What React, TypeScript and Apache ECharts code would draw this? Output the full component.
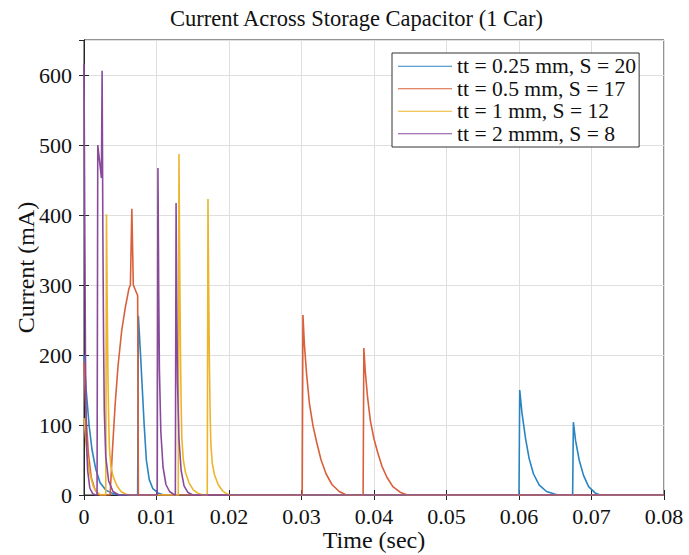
import React, { useEffect, useRef } from "react";
import * as echarts from "echarts";

const TITLE = "Current Across Storage Capacitor (1 Car)";
const X_NAME = "Time (sec)";
const Y_NAME = "Current (mA)";
const SERIES_NAMES = [
  "tt = 0.25 mm, S = 20",
  "tt = 0.5 mm, S = 17",
  "tt = 1 mm, S = 12",
  "tt = 2 mmm, S = 8",
];
const SERIES_COLORS = ["#2a84c2", "#d9603a", "#ecb52c", "#8a4a9c"];

// [time (s), current (mA)]
const BLUE_025MM: [number, number][] = [
  [0, 200], [0.0003, 150], [0.0007, 100], [0.0011, 65], [0.0016, 38], [0.0022, 18], [0.003, 7], [0.004, 2], [0.005, 0],
  [0.0074, 0], [0.0075, 256], [0.0078, 200], [0.008, 160], [0.0083, 100], [0.0086, 50], [0.009, 22], [0.0095, 9], [0.0102, 3], [0.011, 0],
  [0.06, 0], [0.0601, 150], [0.0604, 118], [0.0609, 81], [0.0614, 52], [0.062, 30], [0.0628, 14], [0.0638, 5], [0.065, 1], [0.0655, 0],
  [0.0674, 0], [0.0675, 104], [0.0678, 78], [0.0683, 50], [0.0689, 28], [0.0696, 12], [0.0705, 3], [0.0712, 0],
  [0.08, 0],
];

const ORANGE_05MM: [number, number][] = [
  [0, 190], [0.0003, 110], [0.0006, 60], [0.001, 25], [0.0015, 8], [0.002, 0],
  [0.0036, 0], [0.0039, 60], [0.0043, 130], [0.0047, 185], [0.0052, 235], [0.0057, 268], [0.0062, 295], [0.0064, 300],
  [0.0066, 409], [0.0068, 300], [0.0074, 285], [0.0075, 0],
  [0.0301, 0], [0.0302, 257], [0.0304, 215], [0.0307, 173], [0.0311, 130], [0.0316, 98], [0.0321, 75], [0.0327, 50], [0.0334, 30], [0.0342, 15], [0.0352, 5], [0.0362, 0],
  [0.0385, 0], [0.0386, 210], [0.0388, 176], [0.0391, 141], [0.0395, 106], [0.04, 80], [0.0405, 61], [0.0411, 41], [0.0418, 25], [0.0426, 12], [0.0436, 4], [0.0446, 0],
  [0.08, 0],
];

const YELLOW_1MM: [number, number][] = [
  [0, 110], [0.0004, 60], [0.0008, 30], [0.0013, 12], [0.0018, 4], [0.0023, 0],
  [0.003, 0], [0.0031, 401], [0.0032, 275], [0.0033, 175], [0.0034, 110], [0.0035, 68], [0.0037, 42], [0.004, 27], [0.0045, 14], [0.0051, 5], [0.0058, 1], [0.0065, 0],
  [0.013, 0], [0.0131, 487], [0.0132, 330], [0.0133, 210], [0.0134, 130], [0.0135, 80], [0.0137, 50], [0.014, 32], [0.0145, 17], [0.0151, 7], [0.0158, 2], [0.0165, 0],
  [0.017, 0], [0.0171, 423], [0.0172, 290], [0.0173, 185], [0.0174, 115], [0.0175, 72], [0.0177, 45], [0.018, 29], [0.0185, 15], [0.0191, 6], [0.0198, 1], [0.0205, 0],
  [0.08, 0],
];

const PURPLE_2MM: [number, number][] = [
  [0, 616], [0.0001, 400], [0.0002, 200], [0.0003, 90], [0.0005, 35], [0.0008, 10], [0.0012, 2], [0.0016, 0],
  [0.0018, 0], [0.0019, 500], [0.0024, 453], [0.0025, 606], [0.0026, 380], [0.0027, 220], [0.0028, 120], [0.003, 55], [0.0034, 20], [0.004, 5], [0.0048, 0],
  [0.0101, 0], [0.0102, 467], [0.0103, 300], [0.0104, 180], [0.0106, 90], [0.0109, 40], [0.0113, 15], [0.0118, 5], [0.0125, 0],
  [0.0126, 0], [0.0127, 417], [0.0128, 270], [0.0129, 160], [0.0131, 80], [0.0134, 35], [0.0138, 13], [0.0143, 4], [0.015, 0],
  [0.08, 0],
];

const SERIES_DATA = [BLUE_025MM, ORANGE_05MM, YELLOW_1MM, PURPLE_2MM];

const X_MIN = 0;
const X_MAX = 0.08;
const X_STEP = 0.01;
const Y_MIN = 0;
const Y_MAX = 650;
const Y_STEP = 100;

const FONT = "'Liberation Serif', 'Times New Roman', serif";

export default function App() {
  const ref = useRef<HTMLDivElement>(null);
  useEffect(() => {
    if (!ref.current) return;
    const chart = echarts.init(ref.current, undefined, { renderer: "svg" });
    const axisColor = "#262626";
    const gridColor = "#dfdfdf";
    chart.setOption({
      animation: false,
      backgroundColor: "#ffffff",
      title: {
        text: TITLE,
        left: 170,
        top: 7,
        padding: 0,
        textStyle: { fontFamily: FONT, fontSize: 22.5, fontWeight: "normal", color: "#111" },
      },
      legend: {
        orient: "vertical",
        left: 392,
        top: 53,
        padding: [2, 3, 2, 6],
        itemGap: 0,
        itemWidth: 54,
        itemHeight: 2,
        icon: "path://M0,0 L100,0 L100,2 L0,2 Z",
        backgroundColor: "#ffffff",
        borderColor: "#333",
        borderWidth: 1,
        borderRadius: 0,
        textStyle: { fontFamily: FONT, fontSize: 21.6, color: "#111", lineHeight: 22.5 },
        data: SERIES_NAMES,
      },
      grid: {
        left: 84,
        right: 25,
        top: 40,
        bottom: 60,
        show: true,
        borderColor: axisColor,
        borderWidth: 1,
        containLabel: false,
        outerBoundsMode: "none",
      },
      xAxis: [
        {
          type: "value",
          min: X_MIN,
          max: X_MAX,
          interval: X_STEP,
          name: X_NAME,
          nameLocation: "middle",
          nameGap: 33,
          nameMoveOverlap: false,
          nameTextStyle: { fontFamily: FONT, fontSize: 24, lineHeight: 24, color: "#111" },
          axisLine: { show: true, lineStyle: { color: axisColor } },
          axisTick: { show: true, inside: true, length: 5, lineStyle: { color: axisColor } },
          axisLabel: {
            margin: 11,
            fontFamily: FONT,
            fontSize: 22,
            lineHeight: 20,
            color: "#111",
            formatter: (v: number) => (v === 0 ? "0" : v.toFixed(2)),
          },
          splitLine: { show: true, lineStyle: { color: gridColor, width: 1 } },
        },
        {
          type: "value",
          position: "top",
          min: X_MIN,
          max: X_MAX,
          interval: X_STEP,
          axisLine: { show: true, lineStyle: { color: axisColor } },
          axisTick: { show: true, inside: true, length: 5, lineStyle: { color: axisColor } },
          axisLabel: { show: false },
          splitLine: { show: false },
        },
      ],
      yAxis: [
        {
          type: "value",
          min: Y_MIN,
          max: Y_MAX,
          interval: Y_STEP,
          name: Y_NAME,
          nameLocation: "middle",
          nameGap: 46,
          nameMoveOverlap: false,
          nameRotate: 90,
          nameTextStyle: { fontFamily: FONT, fontSize: 24, lineHeight: 24, color: "#111" },
          axisLine: { show: true, lineStyle: { color: axisColor } },
          axisTick: { show: true, inside: true, length: 5, lineStyle: { color: axisColor } },
          axisLabel: {
            margin: 12,
            fontFamily: FONT,
            fontSize: 22,
            color: "#111",
            showMaxLabel: false,
          },
          splitLine: { show: true, lineStyle: { color: gridColor, width: 1 } },
        },
        {
          type: "value",
          position: "right",
          min: Y_MIN,
          max: Y_MAX,
          interval: Y_STEP,
          axisLine: { show: true, lineStyle: { color: axisColor } },
          axisTick: { show: true, inside: true, length: 5, lineStyle: { color: axisColor } },
          axisLabel: { show: false },
          splitLine: { show: false },
        },
      ],
      series: SERIES_NAMES.map((name, i) => ({
        name,
        type: "line",
        xAxisIndex: 0,
        yAxisIndex: 0,
        data: SERIES_DATA[i],
        symbol: "none",
        showSymbol: false,
        color: SERIES_COLORS[i],
        itemStyle: { color: SERIES_COLORS[i] },
        lineStyle: { color: SERIES_COLORS[i], width: 1.6 },
        z: 2 + i,
      })),
    });
    return () => chart.dispose();
  }, []);
  return <div ref={ref} style={{ width: 689, height: 555, position: "absolute", left: 0, top: 0 }} />;
}
